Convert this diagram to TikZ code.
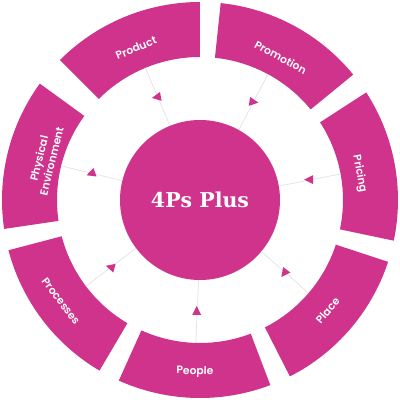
\documentclass[tikz,border=0pt]{standalone}
\usepackage{fontspec}
\newfontfamily\labfont{Poppins SemiBold}
\newfontfamily\hubfont{DejaVu Serif}
\definecolor{mag}{RGB}{207,51,139}
\definecolor{spoke}{RGB}{228,228,228}
\begin{document}
\begin{tikzpicture}[x=1pt,y=1pt,
  seg/.style={fill=mag},
  lab/.style={text=white, font=\labfont\fontsize{10.8}{13}\selectfont, align=center, inner sep=0pt},
  spokeline/.style={draw=spoke, line width=0.8pt},
  tri/.style={fill=mag}]
\useasboundingbox (-200,-200) rectangle (200,200);
% ring segments
\foreach \a/\b in {90/135, 39.3/84, -11.85/32.9, -63/-18.2, -114.2/-69.2, 194.7/239.5, 144/188.4}{
  \fill[seg] (\a:198pt) arc[start angle=\a, end angle=\b, radius=198pt] -- (\b:143pt) arc[start angle=\b, end angle=\a, radius=143pt] -- cycle;
}
% hub
\node[circle, fill=mag, minimum size=160pt, inner sep=0pt, text=white, font=\hubfont\bfseries\fontsize{20.5}{24}\selectfont] (hub) {4Ps Plus};
% spokes and markers
\foreach \m/\d/\n in {112.5/190/prod, 61.65/-8/prom, 10.5/180/pric, -40.6/233/plac, -91.7/90/peop, 217.1/165/proc, 166.2/200/phys}{
  \coordinate (e-\n) at (\m:143pt);
  \draw[spokeline] (hub.\m) -- (e-\n);
  \fill[tri, shift={(\m:111.5pt)}, rotate=\d] (5.5,0) -- (-3.5,4.5) -- (-3.5,-4.5) -- cycle;
}
% labels
\node[lab, rotate=22.5] (l-prod) at (112.8:165pt) {Product};
\node[lab, rotate=-28.3] (l-prom) at (60.5:164pt) {Promotion};
\node[lab, rotate=-79.5] (l-pric) at (9.3:161.6pt) {Pricing};
\node[lab, rotate=49.4] (l-plac) at (-40.9:169pt) {Place};
\node[lab, rotate=-1.7] (l-peop) at (-91.7:172pt) {People};
\node[lab, rotate=-52.9] (l-proc) at (216:172pt) {Processes};
\node[lab, rotate=76.2] (l-phys) at (165.5:160pt) {Physical\\Environment};
\end{tikzpicture}
\end{document}
